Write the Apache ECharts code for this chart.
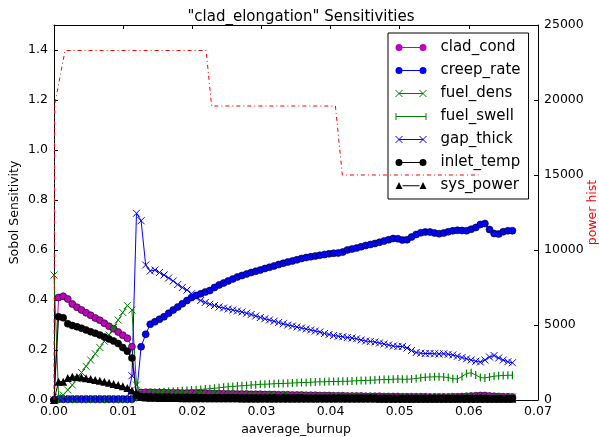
<!DOCTYPE html>
<html>
<head>
<meta charset="utf-8">
<script src="https://cdn.jsdelivr.net/npm/echarts@6/dist/echarts.min.js"></script>
<style>
  html, body { margin: 0; padding: 0; background: #fff; }
  #chart { width: 599px; height: 437px; }
</style>
</head>
<body>
<div id="chart"></div>
<script>
// Burnup grid shared by all sensitivity series
const burnup = [0, 0.00066, 0.00133, 0.00199, 0.00265, 0.00332, 0.00398, 0.00464, 0.0053, 0.00597,
  0.00663, 0.00729, 0.00796, 0.00862, 0.00928, 0.00995, 0.01061, 0.01127, 0.01193, 0.0126,
  0.01326, 0.01392, 0.01459, 0.01525, 0.01591, 0.01658, 0.01724, 0.0179, 0.01856, 0.01923,
  0.01989, 0.02055, 0.02122, 0.02188, 0.02254, 0.02321, 0.02387, 0.02453, 0.02519, 0.02586,
  0.02652, 0.02718, 0.02785, 0.02851, 0.02917, 0.02984, 0.0305, 0.03116, 0.03182, 0.03249,
  0.03315, 0.03381, 0.03448, 0.03514, 0.0358, 0.03647, 0.03713, 0.03779, 0.03845, 0.03912,
  0.03978, 0.04044, 0.04111, 0.04177, 0.04243, 0.0431, 0.04376, 0.04442, 0.04508, 0.04575,
  0.04641, 0.04707, 0.04774, 0.0484, 0.04906, 0.04973, 0.05039, 0.05105, 0.05171, 0.05238,
  0.05304, 0.0537, 0.05437, 0.05503, 0.05569, 0.05636, 0.05702, 0.05768, 0.05834, 0.05901,
  0.05967, 0.06033, 0.061, 0.06166, 0.06232, 0.06299, 0.06365, 0.06431, 0.06497, 0.06564,
  0.0663];

const cladCond = [0, 0.41, 0.415, 0.404, 0.384, 0.371, 0.36, 0.349, 0.339, 0.328,
  0.319, 0.307, 0.295, 0.285, 0.272, 0.259, 0.247, 0.213, 0.012,
  0.03, 0.031, 0.031, 0.03, 0.03, 0.03, 0.029, 0.029, 0.029, 0.028, 0.028, 0.028,
  0.027, 0.027, 0.027, 0.026, 0.026, 0.026, 0.025, 0.025, 0.025, 0.024,
  0.024, 0.024, 0.023, 0.023, 0.023, 0.022, 0.022, 0.022, 0.021, 0.021,
  0.021, 0.02, 0.02, 0.02, 0.019, 0.019, 0.019, 0.018, 0.018, 0.018,
  0.017, 0.017, 0.017, 0.016, 0.016, 0.016, 0.016, 0.015, 0.015, 0.015,
  0.015, 0.014, 0.014, 0.014, 0.014, 0.013, 0.013, 0.013, 0.013, 0.013,
  0.013, 0.012, 0.012, 0.012, 0.012, 0.012, 0.013, 0.013, 0.014, 0.015,
  0.016, 0.017, 0.018, 0.018, 0.016, 0.015, 0.014, 0.013, 0.013, 0.012];

const creepRate = [0, 0.003, 0.003, 0.003, 0.003, 0.003, 0.003, 0.003, 0.003, 0.003,
  0.003, 0.003, 0.003, 0.003, 0.003, 0.003, 0.003, 0.003, 0.02,
  0.213, 0.263, 0.303, 0.313, 0.323, 0.333, 0.347, 0.36, 0.372, 0.385, 0.398, 0.41,
  0.418, 0.425, 0.432, 0.438, 0.45, 0.46, 0.468, 0.476, 0.484, 0.492,
  0.498, 0.504, 0.51, 0.515, 0.52, 0.526, 0.531, 0.536, 0.542, 0.547,
  0.552, 0.556, 0.561, 0.566, 0.57, 0.573, 0.576, 0.579, 0.582, 0.585,
  0.587, 0.588, 0.592, 0.6, 0.604, 0.608, 0.613, 0.618, 0.622, 0.626,
  0.631, 0.636, 0.641, 0.646, 0.645, 0.64, 0.641, 0.652, 0.662, 0.669,
  0.672, 0.672, 0.668, 0.665, 0.668, 0.673, 0.677, 0.679, 0.678, 0.677,
  0.683, 0.69, 0.702, 0.706, 0.682, 0.666, 0.664, 0.673, 0.677, 0.677];

const fuelDens = [0.5, 0.015, 0.02, 0.04, 0.06, 0.085, 0.11, 0.135, 0.16, 0.185,
  0.21, 0.235, 0.26, 0.29, 0.32, 0.35, 0.378, 0.36, 0.06,
  0.03, 0.028, 0.027, 0.026, 0.026, 0.025, 0.025, 0.024, 0.024, 0.023, 0.023, 0.022,
  0.022, 0.022, 0.021, 0.021, 0.021, 0.02, 0.02, 0.02, 0.02, 0.019,
  0.019, 0.019, 0.019, 0.018, 0.018, 0.018, 0.018, 0.017, 0.017, 0.017,
  0.017, 0.016, 0.016, 0.016, 0.016, 0.016, 0.015, 0.015, 0.015, 0.015,
  0.015, 0.014, 0.014, 0.014, 0.014, 0.014, 0.014, 0.013, 0.013, 0.013,
  0.013, 0.013, 0.013, 0.013, 0.012, 0.012, 0.012, 0.012, 0.012, 0.012,
  0.012, 0.012, 0.012, 0.012, 0.012, 0.012, 0.012, 0.012, 0.013, 0.014,
  0.014, 0.013, 0.012, 0.012, 0.012, 0.012, 0.012, 0.012, 0.012, 0.012];

const fuelSwell = [0, 0.003, 0.003, 0.003, 0.003, 0.003, 0.003, 0.003, 0.003, 0.003,
  0.003, 0.003, 0.003, 0.003, 0.003, 0.003, 0.003, 0.003, 0.01,
  0.02, 0.025, 0.028, 0.03, 0.032, 0.033, 0.034, 0.035, 0.036, 0.037, 0.038, 0.04,
  0.041, 0.042, 0.044, 0.045, 0.047, 0.049, 0.051, 0.053, 0.054, 0.056,
  0.057, 0.058, 0.06, 0.061, 0.063, 0.063, 0.064, 0.065, 0.066, 0.066,
  0.067, 0.068, 0.069, 0.07, 0.07, 0.071, 0.072, 0.073, 0.073, 0.074,
  0.074, 0.074, 0.075, 0.075, 0.076, 0.077, 0.078, 0.078, 0.079, 0.08,
  0.081, 0.082, 0.082, 0.083, 0.084, 0.083, 0.083, 0.084, 0.086, 0.089,
  0.091, 0.092, 0.093, 0.093, 0.092, 0.09, 0.085, 0.084, 0.094, 0.106,
  0.109, 0.1, 0.09, 0.088, 0.092, 0.095, 0.097, 0.098, 0.099, 0.099];

const gapThick = [0, 0.005, 0.005, 0.005, 0.005, 0.005, 0.005, 0.005, 0.005, 0.005,
  0.005, 0.005, 0.005, 0.005, 0.005, 0.005, 0.005, 0.097, 0.747,
  0.717, 0.54, 0.516, 0.52, 0.51, 0.5, 0.488, 0.476, 0.462, 0.45, 0.44, 0.425,
  0.41, 0.398, 0.39, 0.383, 0.378, 0.372, 0.368, 0.364, 0.36, 0.356,
  0.352, 0.347, 0.342, 0.336, 0.33, 0.325, 0.32, 0.315, 0.31, 0.305,
  0.3, 0.296, 0.292, 0.288, 0.284, 0.28, 0.276, 0.272, 0.266, 0.262,
  0.258, 0.255, 0.253, 0.25, 0.248, 0.245, 0.24, 0.236, 0.234, 0.232,
  0.228, 0.224, 0.22, 0.216, 0.214, 0.214, 0.208, 0.198, 0.19, 0.187,
  0.186, 0.186, 0.185, 0.184, 0.185, 0.183, 0.18, 0.175, 0.17, 0.165,
  0.16, 0.155, 0.152, 0.16, 0.172, 0.178, 0.168, 0.16, 0.153, 0.149];

const inletTemp = [0, 0.333, 0.329, 0.305, 0.298, 0.293, 0.287, 0.28, 0.273, 0.267,
  0.26, 0.252, 0.244, 0.236, 0.226, 0.21, 0.195, 0.168, 0.02,
  0.014, 0.013, 0.013, 0.012, 0.012, 0.012, 0.012, 0.011, 0.011, 0.011, 0.011, 0.011,
  0.011, 0.01, 0.01, 0.01, 0.01, 0.01, 0.01, 0.01, 0.01, 0.01,
  0.009, 0.009, 0.009, 0.009, 0.009, 0.009, 0.009, 0.009, 0.009, 0.009,
  0.009, 0.009, 0.009, 0.009, 0.008, 0.008, 0.008, 0.008, 0.008, 0.008,
  0.008, 0.008, 0.008, 0.008, 0.008, 0.008, 0.008, 0.008, 0.008, 0.008,
  0.007, 0.007, 0.007, 0.007, 0.007, 0.007, 0.007, 0.007, 0.007, 0.007,
  0.007, 0.007, 0.007, 0.007, 0.007, 0.007, 0.007, 0.007, 0.007, 0.007,
  0.007, 0.007, 0.007, 0.007, 0.006, 0.006, 0.006, 0.006, 0.006, 0.006];

const sysPower = [0, 0.073, 0.073, 0.088, 0.093, 0.092, 0.09, 0.087, 0.084, 0.08,
  0.077, 0.073, 0.069, 0.064, 0.06, 0.055, 0.048, 0.038, 0.027,
  0.012, 0.01, 0.009, 0.009, 0.008, 0.008, 0.008, 0.008, 0.008, 0.007, 0.007, 0.007,
  0.007, 0.007, 0.007, 0.007, 0.007, 0.007, 0.007, 0.007, 0.007, 0.007,
  0.006, 0.006, 0.006, 0.006, 0.006, 0.006, 0.006, 0.006, 0.006, 0.006,
  0.006, 0.006, 0.006, 0.006, 0.006, 0.006, 0.006, 0.006, 0.006, 0.006,
  0.006, 0.006, 0.006, 0.006, 0.006, 0.006, 0.006, 0.006, 0.006, 0.006,
  0.005, 0.005, 0.005, 0.005, 0.005, 0.005, 0.005, 0.005, 0.005, 0.005,
  0.005, 0.005, 0.005, 0.005, 0.005, 0.005, 0.005, 0.005, 0.005, 0.005,
  0.005, 0.005, 0.005, 0.005, 0.005, 0.005, 0.005, 0.005, 0.005, 0.005];

// Power history (right axis)
const powerBurnup = [0, 0.0001, 0.0016, 0.0220, 0.0228, 0.0407, 0.0417, 0.0614];
const powerHist = [0, 19700, 23300, 23300, 19600, 19600, 15000, 15000];

// Axis ticks
const xTicks = { min: 0, max: 0.07, step: 0.01 };
const yLeftTicks = { min: 0, max: 1.5, step: 0.2 };
const yRightTicks = { min: 0, max: 25000, step: 5000 };

const FONT = 'DejaVu Sans';
const pair = (xs, ys) => ys.map((v, i) => [xs[i], v]);

const MAGENTA = '#bf00bf', BLUE = '#0000ff', GREEN = '#008000', BLACK = '#000000', RED = '#ff0000';

// Marker shapes
const X_MARK = 'path://M0,0L10,10M0,10L10,0';

// Legend icons: line sample with a marker at each end
const ICON_CIRCLE = 'path://M0,3.5a3.5,3.5 0 1,0 7,0a3.5,3.5 0 1,0 -7,0Z M24,3.5a3.5,3.5 0 1,0 7,0a3.5,3.5 0 1,0 -7,0Z M7,3H24V4H7Z';
const ICON_X = 'path://M0,0L7,7M0,7L7,0M24,0L31,7M24,7L31,0M3.5,3.5H27.5';
const ICON_BAR = 'path://M0.5,0V7M30.5,0V7M0.5,3.5H30.5';
const ICON_TRI = 'path://M0,7L3.5,0L7,7Z M24,7L27.5,0L31,7Z M7,3.2H24V4.2H7Z';

function circleSeries(name, color, values) {
  return {
    name, type: 'line', color, data: pair(burnup, values),
    symbol: 'circle', symbolSize: 7, showAllSymbol: true,
    lineStyle: { color, width: 1 },
    itemStyle: { color, borderColor: '#000', borderWidth: 0.6 }
  };
}
function crossSeries(name, color, values) {
  return {
    name, type: 'line', color, data: pair(burnup, values),
    symbol: X_MARK, symbolSize: 7, showAllSymbol: true,
    lineStyle: { color, width: 1 },
    itemStyle: { color, borderColor: color, borderWidth: 1 }
  };
}

const chart = echarts.init(document.getElementById('chart'), null, { renderer: 'canvas' });

chart.setOption({
  animation: false,
  backgroundColor: '#fff',
  textStyle: { fontFamily: FONT },
  title: {
    text: '"clad_elongation" Sensitivities',
    left: 296, textAlign: 'center', top: 5,
    textStyle: { fontFamily: FONT, fontSize: 15, fontWeight: 'normal', color: '#000' }
  },
  grid: { left: 54, right: 61, top: 25, bottom: 37, containLabel: false, outerBoundsMode: 'none' },
  legend: {
    orient: 'vertical', left: 388, top: 33,
    backgroundColor: '#fff', borderColor: '#000', borderWidth: 1, borderRadius: 0,
    padding: [6, 8, 5, 7],
    itemWidth: 31, itemHeight: 7, itemGap: 6,
    textStyle: { fontFamily: FONT, fontSize: 15, color: '#000', lineHeight: 17, padding: [0, 0, 0, 9] },
    selectedMode: false,
    data: [
      { name: 'clad_cond', icon: ICON_CIRCLE, itemStyle: { color: MAGENTA, borderWidth: 0 } },
      { name: 'creep_rate', icon: ICON_CIRCLE, itemStyle: { color: BLUE, borderWidth: 0 } },
      { name: 'fuel_dens', icon: ICON_X, itemStyle: { color: GREEN, borderColor: GREEN, borderWidth: 1 } },
      { name: 'fuel_swell', icon: ICON_BAR, itemStyle: { color: GREEN, borderColor: GREEN, borderWidth: 1 } },
      { name: 'gap_thick', icon: ICON_X, itemStyle: { color: BLUE, borderColor: BLUE, borderWidth: 1 } },
      { name: 'inlet_temp', icon: ICON_CIRCLE, itemStyle: { color: BLACK, borderWidth: 0 } },
      { name: 'sys_power', icon: ICON_TRI, itemStyle: { color: BLACK, borderWidth: 0 } }
    ]
  },
  xAxis: [
    {
      type: 'value', position: 'bottom',
      min: xTicks.min, max: xTicks.max, interval: xTicks.step,
      name: 'aaverage_burnup', nameLocation: 'middle', nameGap: 23, nameMoveOverlap: false,
      nameTextStyle: { fontFamily: FONT, fontSize: 12.5, color: '#000' },
      axisLine: { onZero: false, lineStyle: { color: '#000', width: 1 } },
      axisTick: { inside: true, length: 4, lineStyle: { color: '#000' } },
      axisLabel: { fontFamily: FONT, fontSize: 12.5, color: '#000', margin: 5,
        formatter: v => v.toFixed(2) },
      splitLine: { show: false }
    },
    {
      type: 'value', position: 'top',
      min: xTicks.min, max: xTicks.max, interval: xTicks.step,
      axisLine: { onZero: false, lineStyle: { color: '#000', width: 1 } },
      axisTick: { inside: true, length: 4, lineStyle: { color: '#000' } },
      axisLabel: { show: false },
      splitLine: { show: false }
    }
  ],
  yAxis: [
    {
      type: 'value', position: 'left',
      min: yLeftTicks.min, max: yLeftTicks.max, interval: yLeftTicks.step,
      name: 'Sobol Sensitivity', nameLocation: 'middle', nameGap: 33, nameRotate: 90,
      nameMoveOverlap: false,
      nameTextStyle: { fontFamily: FONT, fontSize: 12.5, color: '#000' },
      axisLine: { onZero: false, lineStyle: { color: '#000', width: 1 } },
      axisTick: { inside: true, length: 4, lineStyle: { color: '#000' } },
      axisLabel: { fontFamily: FONT, fontSize: 12.5, color: '#000', margin: 6,
        showMaxLabel: false, formatter: v => v.toFixed(1) },
      splitLine: { show: false }
    },
    {
      type: 'value', position: 'right',
      min: yRightTicks.min, max: yRightTicks.max, interval: yRightTicks.step,
      name: 'power hist', nameLocation: 'middle', nameGap: 48, nameRotate: 90,
      nameMoveOverlap: false,
      nameTextStyle: { fontFamily: FONT, fontSize: 12.5, color: RED },
      axisLine: { onZero: false, lineStyle: { color: '#000', width: 1 } },
      axisTick: { inside: true, length: 4, lineStyle: { color: '#000' } },
      axisLabel: { fontFamily: FONT, fontSize: 12.5, color: '#000', margin: 6,
        formatter: v => String(v) },
      splitLine: { show: false }
    }
  ],
  series: [
    circleSeries('clad_cond', MAGENTA, cladCond),
    circleSeries('creep_rate', BLUE, creepRate),
    crossSeries('fuel_dens', GREEN, fuelDens),
    {
      name: 'fuel_swell', type: 'line', color: GREEN, data: pair(burnup, fuelSwell),
      symbol: 'rect', symbolSize: [1.2, 8], showAllSymbol: true,
      lineStyle: { color: GREEN, width: 1 },
      itemStyle: { color: GREEN, borderWidth: 0 }
    },
    crossSeries('gap_thick', BLUE, gapThick),
    circleSeries('inlet_temp', BLACK, inletTemp),
    {
      name: 'sys_power', type: 'line', color: BLACK, data: pair(burnup, sysPower),
      symbol: 'triangle', symbolSize: 8, showAllSymbol: true,
      lineStyle: { color: BLACK, width: 1 },
      itemStyle: { color: BLACK, borderWidth: 0 }
    },
    {
      name: 'power hist', type: 'line', yAxisIndex: 1, z: 10,
      data: pair(powerBurnup, powerHist),
      symbol: 'none',
      lineStyle: { color: RED, width: 1, type: [4, 3, 1, 3] }
    }
  ]
});
</script>
</body>
</html>
